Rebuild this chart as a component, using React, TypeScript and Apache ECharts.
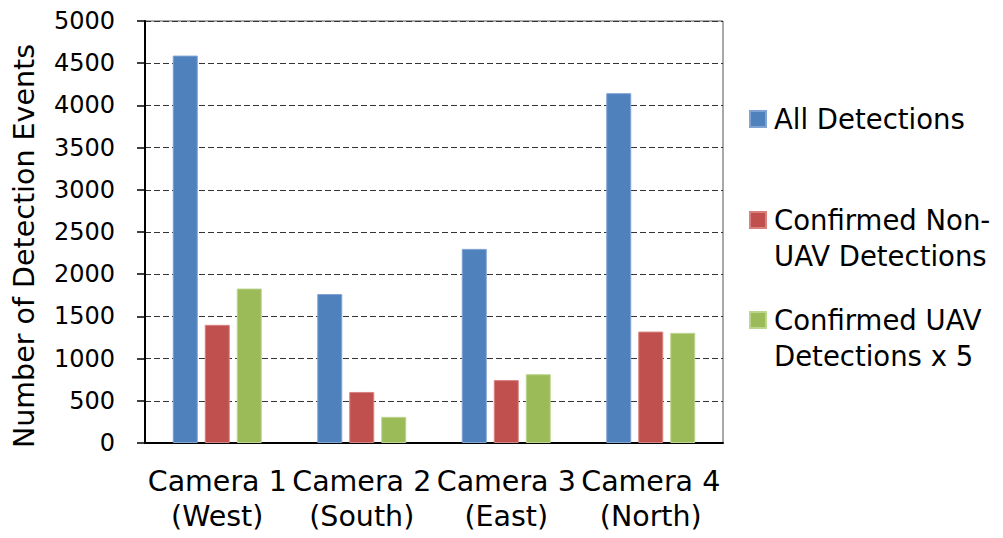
import React, { useEffect, useRef } from "react";
import * as echarts from "echarts";

// Cameras along the x axis (two-line labels)
const categories = ["Camera 1\n(West)", "Camera 2\n(South)", "Camera 3\n(East)", "Camera 4\n(North)"];

// Detection counts per camera
const allDetections = [4590, 1765, 2300, 4145];
const nonUavDetections = [1400, 605, 745, 1320];
const uavDetectionsX5 = [1830, 310, 815, 1305];

const seriesNames = ["All Detections", "Confirmed Non-UAV Detections", "Confirmed UAV Detections x 5"];
const legendLabels = ["All Detections", "\nConfirmed Non-\nUAV Detections", "\nConfirmed UAV\nDetections x 5"];
const seriesColors = ["#4F81BD", "#C0504D", "#9BBB59"];
const seriesBorders = ["#7FA3D2", "#D88280", "#BCD58E"];

const yAxisTitle = "Number of Detection Events";

const FONT = "DejaVu Sans";

export default function App() {
  const ref = useRef<HTMLDivElement>(null);

  useEffect(() => {
    if (!ref.current) return;
    const chart = echarts.init(ref.current, undefined, { renderer: "svg" });

    const values = [allDetections, nonUavDetections, uavDetectionsX5];
    const legendTops = [101, 166, 266];

    chart.setOption({
      animation: false,
      backgroundColor: "#ffffff",
      textStyle: { fontFamily: FONT, color: "#000" },
      grid: {
        left: 145,
        right: 280,
        top: 21,
        bottom: 95,
        show: true,
        borderColor: "#555",
        borderWidth: 1,
        backgroundColor: "transparent",
      },
      legend: seriesNames.map((name, i) => ({
        data: [name],
        orient: "vertical",
        left: 749,
        top: legendTops[i],
        padding: 0,
        itemWidth: 16,
        itemHeight: 16,
        itemGap: 0,
        selectedMode: false,
        icon: "rect",
        formatter: () => legendLabels[i],
        textStyle: {
          fontFamily: FONT,
          fontSize: 27.5,
          lineHeight: 36,
          color: "#000",
          padding: [0, 0, 0, 3],
        },
      })),
      xAxis: {
        type: "category",
        data: categories,
        axisLine: { show: true, lineStyle: { color: "#000", width: 2 } },
        axisTick: { show: false },
        axisLabel: {
          interval: 0,
          margin: 21,
          fontFamily: FONT,
          fontSize: 28.5,
          lineHeight: 35,
          color: "#000",
        },
      },
      yAxis: {
        type: "value",
        min: 0,
        max: 5000,
        interval: 500,
        axisLine: { show: true, lineStyle: { color: "#000", width: 2 } },
        axisTick: { show: true, length: 8, lineStyle: { color: "#000", width: 1.5 } },
        axisLabel: {
          margin: 30,
          fontFamily: FONT,
          fontSize: 24,
          color: "#000",
          formatter: (v: number) => String(v),
        },
        splitLine: {
          show: true,
          lineStyle: { color: "#333", width: 1, type: [6, 3] },
        },
      },
      graphic: [
        {
          type: "text",
          x: 24,
          y: 246,
          rotation: Math.PI / 2,
          style: {
            text: yAxisTitle,
            fontFamily: FONT,
            fontSize: 28.5,
            fill: "#000",
            align: "center",
            verticalAlign: "middle",
          },
        },
      ],
      series: seriesNames.map((name, i) => ({
        name,
        type: "bar",
        data: values[i],
        barWidth: 25,
        barGap: "28%",
        itemStyle: {
          color: seriesColors[i],
          borderColor: seriesBorders[i],
          borderWidth: 1,
        },
      })),
    });

    return () => chart.dispose();
  }, []);

  return (
    <div
      ref={ref}
      style={{ position: "fixed", left: 0, top: 0, width: 1003, height: 538, background: "#fff" }}
    />
  );
}
